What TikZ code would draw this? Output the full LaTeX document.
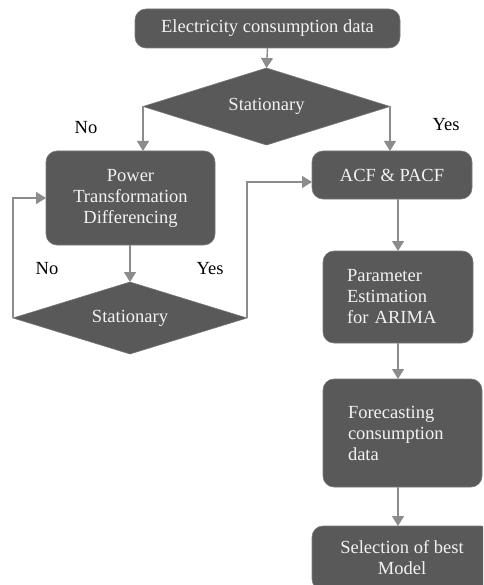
\documentclass[tikz,border=0pt]{standalone}
\usepackage{fontspec}
\setmainfont{Liberation Serif}
\usetikzlibrary{shapes.geometric,arrows.meta}
\definecolor{boxgray}{HTML}{595959}
\definecolor{edgegray}{HTML}{7A7A7A}
\definecolor{arrgray}{HTML}{8C8C8C}
\definecolor{txtwhite}{HTML}{F2F2F2}
\begin{document}
\begin{tikzpicture}[x=1pt,y=-1pt,
  every node/.style={font=\fontsize{18.5}{21}\selectfont},
  box/.style={rectangle,rounded corners=11pt,fill=boxgray,draw=edgegray,line width=0.6pt,
    text=txtwhite,align=center,inner sep=0pt,outer sep=0pt},
  dia/.style={diamond,fill=boxgray,draw=edgegray,line width=0.6pt,text=txtwhite,
    inner sep=0pt,outer sep=0pt},
  lbl/.style={text=black},
  arr/.style={draw=arrgray,line width=1.4pt,-{Triangle[width=12pt,length=10pt]}},
  ln/.style={draw=arrgray,line width=1.4pt}]
\useasboundingbox (0,0) rectangle (483,585);
\clip (0,0) rectangle (483,585);
\node[box,minimum width=265pt,minimum height=39pt] (top) at (267.5,28.5) {Electricity consumption data};
\node[dia,minimum width=247pt,minimum height=77pt,aspect=3.2] (d1) at (266.5,106.5) {Stationary};
\node[box,minimum width=169pt,minimum height=94pt] (pow) at (130.5,198) {Power\\Transformation\\Differencing};
\node[box,minimum width=160pt,minimum height=48pt] (acf) at (392,175) {ACF \& PACF};
\node[dia,minimum width=234pt,minimum height=72pt,aspect=3.25] (d2) at (130,318) {Stationary};
\node[box,minimum width=150pt,minimum height=92pt,text width=102pt,inner xsep=24pt,align=left] (par) at (398,297) {Parameter\\Estimation\\for ARIMA};
\node[box,minimum width=159pt,minimum height=108pt,text width=109pt,inner xsep=25pt,align=left] (fc) at (402.5,433) {Forecasting\\consumption\\data};
\node[box,minimum width=180pt,minimum height=64pt] (sel) at (402,558) {Selection of best\\Model};
\node[lbl] (no1) at (86,128) {No};
\node[lbl] (yes1) at (446,125) {Yes};
\node[lbl] (no2) at (47,269) {No};
\node[lbl] (yes2) at (210,269) {Yes};
\coordinate (colx) at (398,0);
\draw[arr] (top.south) -- (d1.north);
\draw[arr] (d1.west) -- (d1.west |- pow.north);
\draw[arr] (d1.east) -- (d1.east |- acf.north);
\draw[arr] (pow.south -| d2.north) -- (d2.north);
\draw[arr] (d2.west) |- (pow.west);
\draw[arr] (d2.east) |- ([yshift=-7pt]acf.west);
\draw[arr] (acf.south -| colx) -- (par.north -| colx);
\draw[arr] (par.south -| colx) -- (fc.north -| colx);
\draw[arr] (fc.south -| colx) -- (sel.north -| colx);
\end{tikzpicture}
\end{document}
